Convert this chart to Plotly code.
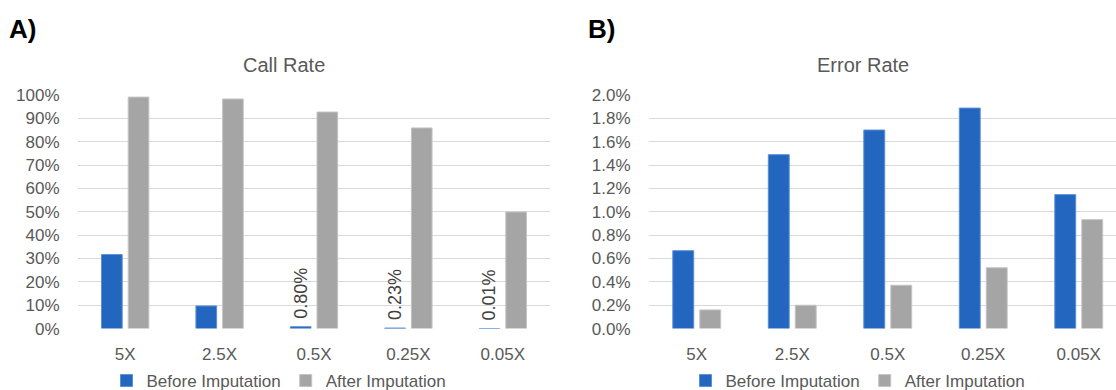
import plotly.graph_objects as go

categories = ["5X", "2.5X", "0.5X", "0.25X", "0.05X"]

call_before = [31.7, 9.7, 0.80, 0.23, 0.01]
call_after = [99.1, 98.3, 92.7, 85.9, 49.9]

err_before = [0.667, 1.489, 1.70, 1.888, 1.147]
err_after = [0.16, 0.20, 0.371, 0.521, 0.933]

call_ticks = [0, 10, 20, 30, 40, 50, 60, 70, 80, 90, 100]
err_ticks = [0.0, 0.2, 0.4, 0.6, 0.8, 1.0, 1.2, 1.4, 1.6, 1.8, 2.0]

BLUE = "#2366BF"
GRAY = "#A5A5A5"
FONT = "Liberation Sans, Arial, Helvetica, sans-serif"
TXT = "#595959"

W, H = 1116, 390

call_labels = [f"\u00a0{v:.2f}%" if v < 1 else "" for v in call_before]

fig = go.Figure()

fig.add_trace(go.Bar(
    x=categories, y=call_before, name="Before Imputation",
    marker=dict(color=BLUE, line=dict(color="#5B8ED6", width=1)),
    text=call_labels, textposition="outside", textangle=-90,
    textfont=dict(family=FONT, size=18, color="#404040"),
    constraintext="none", cliponaxis=False,
    xaxis="x", yaxis="y", legend="legend",
))
fig.add_trace(go.Bar(
    x=categories, y=call_after, name="After Imputation",
    marker=dict(color=GRAY, line=dict(color="#C4C4C4", width=1)),
    xaxis="x", yaxis="y", legend="legend",
))
fig.add_trace(go.Bar(
    x=categories, y=err_before, name="Before Imputation",
    marker=dict(color=BLUE, line=dict(color="#5B8ED6", width=1)),
    xaxis="x2", yaxis="y2", legend="legend2",
))
fig.add_trace(go.Bar(
    x=categories, y=err_after, name="After Imputation",
    marker=dict(color=GRAY, line=dict(color="#C4C4C4", width=1)),
    xaxis="x2", yaxis="y2", legend="legend2",
))

ydom = [(H - 328.6) / H, (H - 95) / H]

common_x = dict(
    type="category", showgrid=False, zeroline=False, showline=False,
    ticks="outside", ticklen=10, tickcolor="rgba(0,0,0,0)", automargin=False,
    tickfont=dict(family=FONT, size=17, color=TXT),
)
common_y = dict(
    showgrid=True, gridcolor="#D9D9D9", gridwidth=1, zeroline=False,
    showline=False, ticks="outside", ticklen=14, tickcolor="rgba(0,0,0,0)",
    automargin=False, tickfont=dict(family=FONT, size=17, color=TXT),
)

spacing_right = 95.5
right_end = (W - 649) / spacing_right - 0.5

fig.update_layout(
    width=W, height=H,
    margin=dict(l=0, r=0, t=0, b=0, pad=0, autoexpand=False),
    paper_bgcolor="white", plot_bgcolor="white",
    barmode="group", bargap=0.435, bargroupgap=0.225,
    font=dict(family=FONT, color=TXT),
    xaxis=dict(domain=[78 / W, 550 / W], range=[-0.5, 4.5], anchor="y", **common_x),
    yaxis=dict(domain=ydom, range=[0, 100], tickvals=call_ticks,
               ticktext=[f"{v}%" for v in call_ticks], anchor="x", **common_y),
    xaxis2=dict(domain=[649 / W, 1.0], range=[-0.5, right_end], anchor="y2", **common_x),
    yaxis2=dict(domain=ydom, range=[0, 2.0], tickvals=err_ticks,
                ticktext=[f"{v:.1f}%" for v in err_ticks], anchor="x2", **common_y),
    legend=dict(orientation="h", x=279 / W, xanchor="center", y=(H - 381) / H,
                yanchor="middle", font=dict(family=FONT, size=17, color=TXT),
                bgcolor="rgba(0,0,0,0)", itemclick=False),
    legend2=dict(orientation="h", x=858 / W, xanchor="center", y=(H - 381) / H,
                 yanchor="middle", font=dict(family=FONT, size=17, color=TXT),
                 bgcolor="rgba(0,0,0,0)", itemclick=False),
    showlegend=True,
    annotations=[
        dict(text="Call Rate", x=284 / W, y=(H - 65) / H, xref="paper", yref="paper",
             showarrow=False, xanchor="center", yanchor="middle",
             font=dict(family=FONT, size=20, color=TXT)),
        dict(text="Error Rate", x=863 / W, y=(H - 65) / H, xref="paper", yref="paper",
             showarrow=False, xanchor="center", yanchor="middle",
             font=dict(family=FONT, size=20, color=TXT)),
        dict(text="<b>A)</b>", x=7 / W, y=(H - 29) / H, xref="paper", yref="paper",
             showarrow=False, xanchor="left", yanchor="middle",
             font=dict(family=FONT, size=26, color="black")),
        dict(text="<b>B)</b>", x=586 / W, y=(H - 29) / H, xref="paper", yref="paper",
             showarrow=False, xanchor="left", yanchor="middle",
             font=dict(family=FONT, size=26, color="black")),
    ],
)

fig.write_html(
    "out.html",
    config={"displayModeBar": False},
    post_script="document.body.style.margin='0';document.body.style.padding='0';"
                "document.body.style.overflow='hidden';",
)
